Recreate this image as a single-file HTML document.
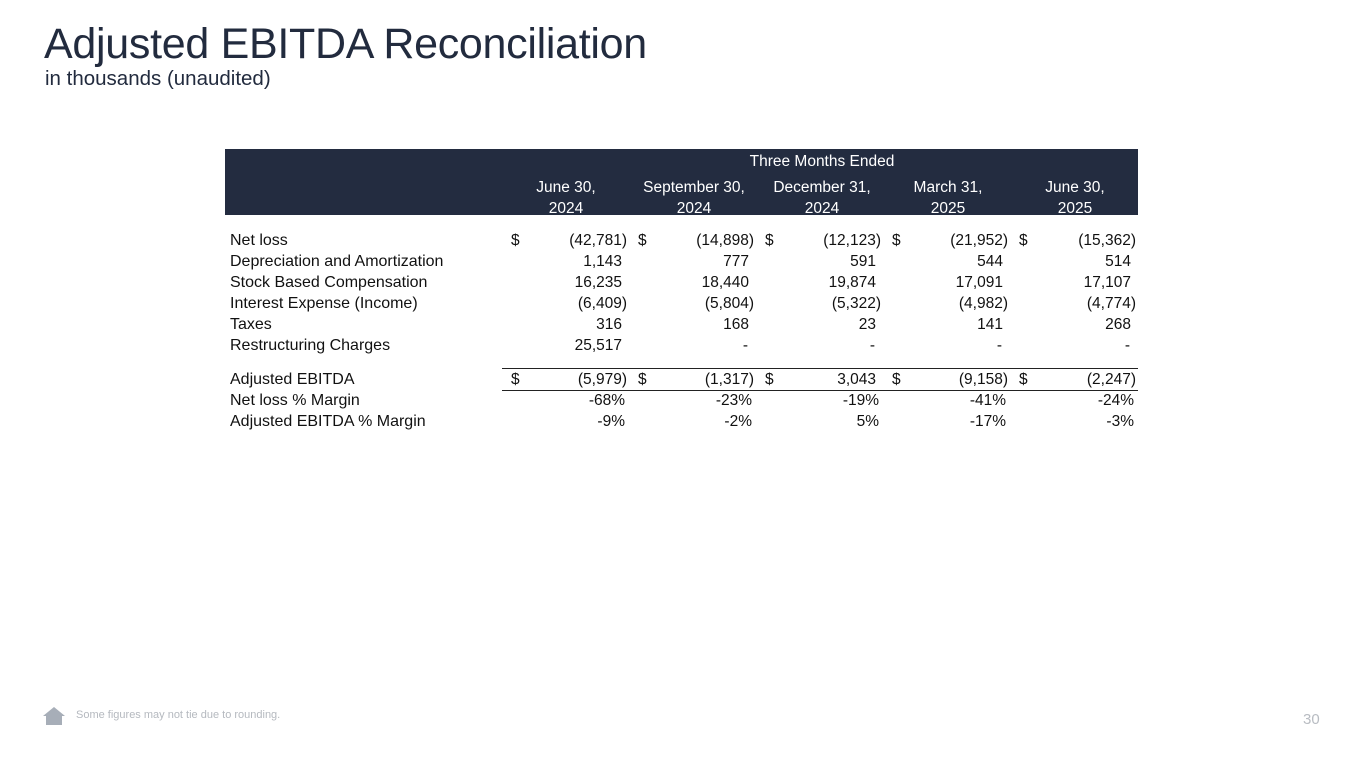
<!DOCTYPE html>
<html><head><meta charset="utf-8">
<style>
body{margin:0;width:1365px;height:768px;background:#fff;position:relative;overflow:hidden;font-family:"Liberation Sans",Arial,sans-serif;color:#111;}
.a{position:absolute;white-space:nowrap;}
#title{left:44px;top:20px;font-size:43px;color:#222b3e;letter-spacing:-0.3px;}
#sub{left:45px;top:67px;font-size:20.5px;color:#222b3e;}
#band{left:225px;top:149px;width:913px;height:66px;background:#232c40;}
.h{color:#fff;font-size:15.5px;text-align:center;line-height:21px;}
.lbl{left:230px;font-size:16px;}
.v{font-size:15.5px;text-align:right;}
.d{font-size:15.5px;}
.ln{height:1px;background:#222;left:502px;width:636px;}
</style></head><body>
<div class="a" id="title">Adjusted EBITDA Reconciliation</div>
<div class="a" id="sub">in thousands (unaudited)</div>
<div class="a" id="band"></div>
<div class="a h" style="left:502px;width:640px;top:151px;">Three Months Ended</div>
<div id="tbl"></div>
<div class="a ln" style="top:368px;"></div>
<div class="a ln" style="top:390px;"></div>
<svg class="a" style="left:42px;top:706px" width="24" height="20"><path d="M12 1 L23 10 L20 10 L20 19 L4 19 L4 10 L1 10 Z" fill="#a7aeb8"/></svg>
<div class="a" style="left:76px;top:709px;font-size:11px;color:#b5b9bf;">Some figures may not tie due to rounding.</div>
<div class="a" style="left:1303px;top:711px;font-size:15px;color:#b8bcc2;">30</div>
<script>
const headers=[["June 30,","2024"],["September 30,","2024"],["December 31,","2024"],["March 31,","2025"],["June 30,","2025"]];
const labels=["Net loss","Depreciation and Amortization","Stock Based Compensation","Interest Expense (Income)","Taxes","Restructuring Charges","Adjusted EBITDA","Net loss % Margin","Adjusted EBITDA % Margin"];
const values=[
["(42,781)","(14,898)","(12,123)","(21,952)","(15,362)"],
["1,143","777","591","544","514"],
["16,235","18,440","19,874","17,091","17,107"],
["(6,409)","(5,804)","(5,322)","(4,982)","(4,774)"],
["316","168","23","141","268"],
["25,517","-","-","-","-"],
["(5,979)","(1,317)","3,043","(9,158)","(2,247)"],
["-68%","-23%","-19%","-41%","-24%"],
["-9%","-2%","5%","-17%","-3%"]];
const dollarRows=[0,6];
const T=document.getElementById('tbl');
const hc=[566,694,822,948,1075], rx=[627,754,881,1008,1136], dx=[511,638,765,892,1019];
const rowY=[232,253,274,295,316,337,371,392,413];
headers.forEach((h,i)=>{
 const e=document.createElement('div');
 
 
 e.className='a h';e.style.left=(hc[i]-70)+'px';e.style.width='140px';e.style.top='177px';
 e.innerHTML=h[0]+'<br>'+h[1];T.appendChild(e);
});
labels.forEach((l,r)=>{
 const e=document.createElement('div');
 
 
 e.className='a lbl';e.style.top=rowY[r]+'px';e.textContent=l;T.appendChild(e);
 values[r].forEach((v,c)=>{
  const s=document.createElement('div');
  
  
  s.className='a v';
  const paren=v.endsWith(')');
  const pct=v.endsWith('%');
  const dash=v==='-';
  const right=rx[c]-(paren?0:(pct?2:(dash?6:5)));
  s.style.left=(right-100)+'px';s.style.width='100px';s.style.top=rowY[r]+'px';s.textContent=v;T.appendChild(s);
  if(dollarRows.includes(r)){
   const d=document.createElement('div');
   
   
   d.className='a d';d.style.left=dx[c]+'px';d.style.top=rowY[r]+'px';d.textContent='$';T.appendChild(d);
  }
 });
});
</script>
</body></html>
